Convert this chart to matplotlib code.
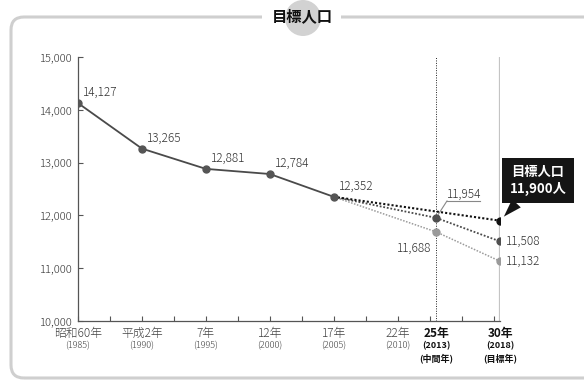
import numpy as np
import matplotlib
matplotlib.use('Agg')
import matplotlib.pyplot as plt
from matplotlib.patches import FancyBboxPatch, Circle, Rectangle

plt.rcParams['font.family'] = ['Noto Sans CJK JP', 'DejaVu Sans']

# 実績値
years = [1985, 1990, 1995, 2000, 2005]
actual = [14127, 13265, 12881, 12784, 12352]

# 推計値
target_years = [2005, 2018]
target = [12352, 11900]
proj_years = [2005, 2013, 2018]
proj_mid = [12352, 11954, 11508]
proj_low = [12352, 11688, 11132]

tick_years = [1985, 1990, 1995, 2000, 2005, 2010, 2013, 2018]
tick_main = ['昭和60年', '平成2年', '7年', '12年', '17年', '22年', '25年', '30年']
tick_sub = ['(1985)', '(1990)', '(1995)', '(2000)', '(2005)', '(2010)', '(2013)', '(2018)']
tick_note = {2013: '(中間年)', 2018: '(目標年)'}

fig = plt.figure(figsize=(5.84, 3.81), dpi=100)
ax = fig.add_axes([78 / 584, 60 / 381, 422 / 584, 264 / 381])

ax.set_xlim(1985, 2018)
ax.set_ylim(10000, 15000)
ax.set_yticks([10000, 11000, 12000, 13000, 14000, 15000])
ax.set_yticklabels(['10,000', '11,000', '12,000', '13,000', '14,000', '15,000'],
                   fontsize=8, color='#333333', fontweight='light')
ax.set_xticks(np.arange(1985, 2018, 2.5))
ax.set_xticklabels([])
ax.tick_params(axis='both', direction='in', length=3.5, width=0.8, color='#555555')
ax.tick_params(axis='y', pad=4)
for s in ['top', 'right']:
    ax.spines[s].set_visible(False)
for s in ['left', 'bottom']:
    ax.spines[s].set_color('#555555')
    ax.spines[s].set_linewidth(0.9)

# 中間年・目標年の縦線
ax.axvline(2013, color='#222222', lw=0.7, ls=(0, (1, 1.5)), zorder=1)
ax.axvline(2018, color='#c4c4c4', lw=1.6, zorder=1)

# 推計ライン
ax.plot(proj_years, proj_low, color='#9a9a9a', lw=1.1, ls=(0, (1, 1)), zorder=2)
ax.plot(proj_years, proj_mid, color='#4a4a4a', lw=1.3, ls=(0, (1, 1)), zorder=3)
ax.plot(target_years, target, color='#111111', lw=1.5, ls=(0, (1, 1)), zorder=3)
ax.plot(proj_years[1:], proj_low[1:], 'o', color='#9a9a9a', ms=5, zorder=4)
ax.plot(proj_years[1:], proj_mid[1:], 'o', color='#4f4f4f', ms=5, zorder=4)
ax.plot(target_years[1:], target[1:], 'o', color='#111111', ms=5, zorder=5)

# 実績ライン
ax.plot(years, actual, color='#4a4a4a', lw=1.3, marker='o', ms=5,
        mfc='#555555', mec='#555555', zorder=4)

lab = dict(fontsize=8.5, color='#333333', fontweight='light', textcoords='offset pixels')
for x, v in zip(years, actual):
    ax.annotate(f'{v:,}', (x, v), xytext=(5, 4), ha='left', va='bottom', **lab)

# 11,954 の引き出し線
ax.annotate(f'{proj_mid[1]:,}', (proj_years[1], proj_mid[1]), xytext=(11, 24),
            ha='left', va='center', **lab)
ax.annotate('', (proj_years[1], proj_mid[1]), xytext=(11, 17), textcoords='offset pixels',
            arrowprops=dict(arrowstyle='-', color='#888888', lw=0.8, shrinkA=0, shrinkB=3))
ax.plot([proj_years[1] + 11 / 12.8, proj_years[1] + 44 / 12.8],
        [proj_mid[1] + 17 / 52.8 * 1000] * 2, color='#888888', lw=0.8, zorder=2)

ax.annotate(f'{proj_low[1]:,}', (proj_years[1], proj_low[1]), xytext=(-5, -16),
            ha='right', va='center', **lab)
ax.annotate(f'{proj_mid[2]:,}', (proj_years[2], proj_mid[2]), xytext=(6, 0),
            ha='left', va='center', annotation_clip=False, **lab)
ax.annotate(f'{proj_low[2]:,}', (proj_years[2], proj_low[2]), xytext=(6, 0),
            ha='left', va='center', annotation_clip=False, **lab)

# 目標人口の吹き出し
ax.annotate(f'目標人口\n{target[1]:,}人', (target_years[1], target[1]), xytext=(38, 40),
            textcoords='offset pixels', ha='center', va='center', color='white',
            fontsize=9.5, fontweight='bold', linespacing=1.25, annotation_clip=False,
            zorder=6,
            bbox=dict(boxstyle='square,pad=0.55', fc='#151515', ec='none'),
            arrowprops=dict(arrowstyle='wedge,tail_width=0.9', fc='#151515', ec='none',
                            shrinkA=0, shrinkB=4))

# x軸ラベル
for x, m, s in zip(tick_years, tick_main, tick_sub):
    bold = x in tick_note
    c = '#111111' if bold else '#444444'
    w = 'bold' if bold else 'light'
    ax.annotate(m, (x, 0), xycoords=('data', 'axes fraction'), xytext=(0, -12),
                textcoords='offset pixels', ha='center', va='center', fontsize=8.5,
                color=c, fontweight=w, annotation_clip=False)
    ax.annotate(s, (x, 0), xycoords=('data', 'axes fraction'), xytext=(0, -25),
                textcoords='offset pixels', ha='center', va='center', fontsize=6.5,
                color=c, fontweight=w, annotation_clip=False)
    if bold:
        ax.annotate(tick_note[x], (x, 0), xycoords=('data', 'axes fraction'),
                    xytext=(0, -37), textcoords='offset pixels', ha='center', va='center',
                    fontsize=6.5, color=c, fontweight=w, annotation_clip=False)

# 外枠とタイトル
px = fig.dpi_scale_trans
frame = FancyBboxPatch((11 / 100, 3 / 100), 600 / 100, 361 / 100,
                       boxstyle='round,pad=0,rounding_size=0.13', transform=px,
                       fc='none', ec='#cfcfcf', lw=2.2, clip_on=False)
fig.add_artist(frame)
fig.add_artist(Rectangle((262 / 100, 355 / 100), 79 / 100, 20 / 100, transform=px,
                         fc='white', ec='none'))
fig.add_artist(Circle((303 / 100, 363 / 100), 18 / 100, transform=px,
                      fc='#d2d2d2', ec='none'))
fig.text(302 / 584, 1 - 16 / 381, '目標人口', ha='center', va='center', fontsize=11,
         fontweight='bold', color='#111111')

fig.savefig('out.png', dpi=100)
